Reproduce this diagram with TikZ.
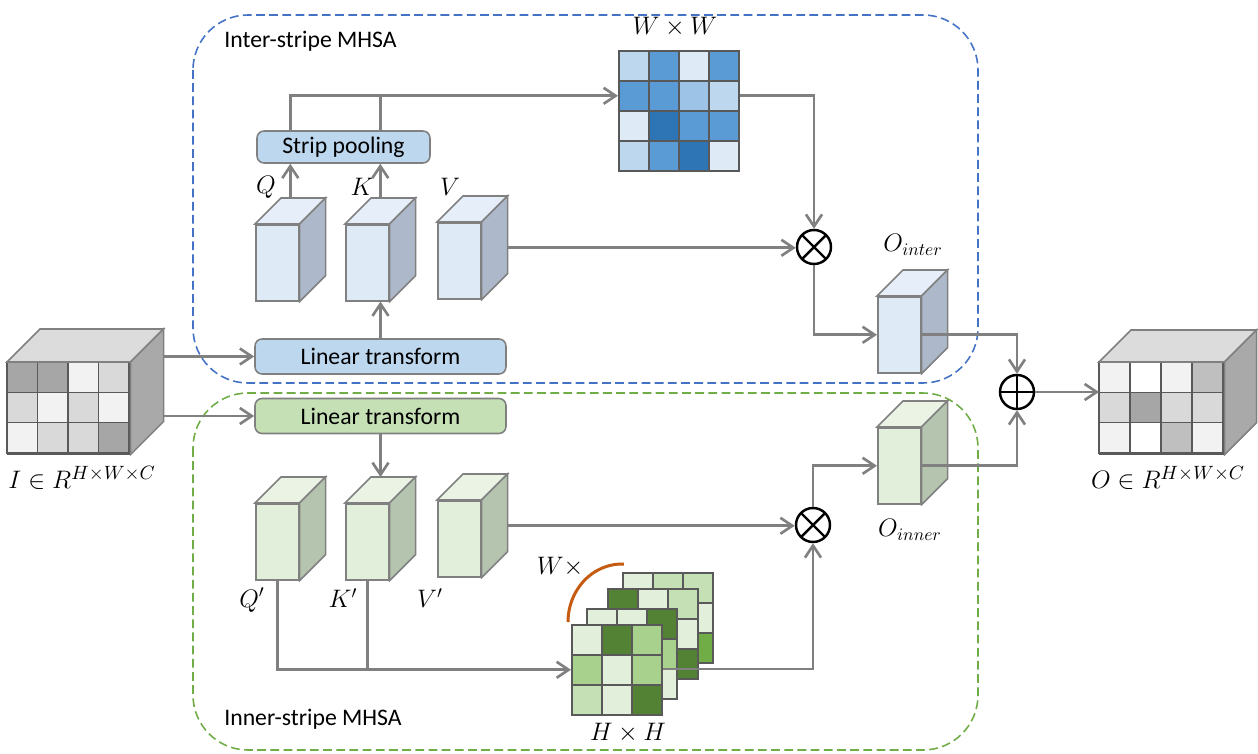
\documentclass[tikz,border=0pt]{standalone}
\usepackage{fontspec}
\setmainfont{Carlito}
\usetikzlibrary{arrows.meta,calc}

\definecolor{lnGray}{HTML}{808080}
\definecolor{cellGray}{HTML}{595959}
\definecolor{blueDash}{HTML}{4472C4}
\definecolor{greenDash}{HTML}{70AD47}
\definecolor{arcOrange}{HTML}{C55A11}
\definecolor{bFill}{HTML}{BDD7EE}
\definecolor{gFill}{HTML}{C5E0B4}
\definecolor{bFront}{HTML}{DEEBF7}
\definecolor{bTop}{HTML}{E6EFF9}
\definecolor{bSide}{HTML}{ADB9CA}
\definecolor{gFront}{HTML}{E2EFDA}
\definecolor{gTop}{HTML}{EAF3E4}
\definecolor{gSide}{HTML}{B5C4AE}
\definecolor{kTop}{HTML}{DCDCDC}
\definecolor{kSide}{HTML}{A9A9A9}
\definecolor{k0}{HTML}{FFFFFF}
\definecolor{k1}{HTML}{F2F2F2}
\definecolor{k2}{HTML}{D9D9D9}
\definecolor{k3}{HTML}{BFBFBF}
\definecolor{k4}{HTML}{A6A6A6}
\definecolor{bL}{HTML}{BDD7EE}
\definecolor{bM}{HTML}{5B9BD5}
\definecolor{bV}{HTML}{DEEBF7}
\definecolor{bH}{HTML}{9DC3E6}
\definecolor{bD}{HTML}{2E75B6}
\definecolor{gA}{HTML}{E2EFDA}
\definecolor{gB}{HTML}{C5E0B4}
\definecolor{gM}{HTML}{A9D18E}
\definecolor{gD}{HTML}{548235}
\definecolor{gG}{HTML}{70AD47}

\begin{document}
\begin{tikzpicture}[x=0.02cm,y=-0.02cm,
  arr/.style={draw=lnGray,line width=1.5pt,-{Straight Barb[length=2.4mm,width=3.2mm]}},
  ln/.style={draw=lnGray,line width=1.5pt},
  op/.style={rounded corners=4pt,draw=lnGray,line width=0.9pt,minimum height=0.7cm,inner sep=0pt,font=\fontsize{13.5}{15}\selectfont},
  fb/.style={draw=lnGray,line width=0.9pt,fill=bFront,minimum width=0.86cm,minimum height=1.52cm,inner sep=0pt,anchor=north west},
  fg/.style={fb,fill=gFront},
  big/.style={draw=cellGray,line width=0.9pt,minimum height=1.82cm,inner sep=0pt,anchor=north west},
  cell/.style={draw=cellGray,line width=0.9pt,minimum width=0.6cm,minimum height=0.6cm,inner sep=0pt,anchor=north west},
  mult/.style={circle,draw=black,line width=1.4pt,minimum size=0.68cm,inner sep=0pt,fill=white,
    path picture={\draw[line width=1.4pt] (path picture bounding box.north west) -- (path picture bounding box.south east)
      (path picture bounding box.north east) -- (path picture bounding box.south west);}},
  plus/.style={circle,draw=black,line width=1.4pt,minimum size=0.68cm,inner sep=0pt,fill=white,
    path picture={\draw[line width=1.4pt] (path picture bounding box.north) -- (path picture bounding box.south)
      (path picture bounding box.west) -- (path picture bounding box.east);}},
  lab/.style={font=\fontsize{14}{16}\selectfont,inner sep=1pt},
  biglab/.style={font=\fontsize{15.5}{18}\selectfont,inner sep=1pt},
  txt/.style={font=\fontsize{13.5}{15}\selectfont,anchor=west,inner sep=0pt},
  region/.style={line width=0.9pt,dash pattern=on 5pt off 2.5pt,rounded corners=1.1cm}]
  \useasboundingbox (0,0) rectangle (1258,754);
  % cuboid: front face node #1, top/side colours, depth
  \def\cuboid#1#2#3#4{%
    \draw[draw=lnGray,line width=0.9pt,fill=#2] (#1.north west) -- ++(#4,-#4) -- ($(#1.north east)+(#4,-#4)$) -- (#1.north east) -- cycle;
    \draw[draw=lnGray,line width=0.9pt,fill=#3] (#1.north east) -- ++(#4,-#4) -- ($(#1.south east)+(#4,-#4)$) -- (#1.south east) -- cycle;
    \coordinate (#1-top) at ($(#1.north)+(#4/2,-#4)$);
    \coordinate (#1-side) at ($(#1.east)+(#4,-#4/2)$);
    \coordinate (#1-ne) at ($(#1.north east)+(#4,-#4)$);}
  % grid of cells: name, x, y, columns, colours
  \def\grid#1#2#3#4#5{%
    \foreach \c [count=\n from 0] in {#5} {
      \pgfmathtruncatemacro\rr{div(\n,#4)+1}
      \pgfmathtruncatemacro\cc{mod(\n,#4)+1}
      \node[cell,fill=\c] (#1-\rr-\cc) at ({#2+30*(\cc-1)},{#3+30*(\rr-1)}) {};
    }}

  % ---------- the two branches ----------
  \draw[region,draw=blueDash] (193,15) rectangle (978,383);
  \draw[region,draw=greenDash] (193,393) rectangle (978,750);
  \node[txt] (t1) at (224,41) {Inter-stripe MHSA};
  \node[txt] (t2) at (224,719) {Inner-stripe MHSA};

  % ---------- input and output tensors ----------
  \node[big,minimum width=2.44cm] (inc) at (7,362) {};
  \foreach \c [count=\n from 0] in {k4,k4,k1,k2, k2,k1,k2,k1, k1,k2,k2,k4} {
    \pgfmathtruncatemacro\rr{div(\n,4)}
    \pgfmathtruncatemacro\cc{mod(\n,4)}
    \draw[draw=cellGray,line width=0.9pt,fill=\c] ($(inc.north west)+(30.5*\cc,30.33*\rr)$) rectangle ++(30.5,30.33);
  }
  \cuboid{inc}{kTop}{kSide}{33}
  \node[big,minimum width=2.48cm] (outc) at (1099,362) {};
  \foreach \c [count=\n from 0] in {k1,k0,k1,k3, k2,k4,k2,k2, k1,k0,k3,k1} {
    \pgfmathtruncatemacro\rr{div(\n,4)}
    \pgfmathtruncatemacro\cc{mod(\n,4)}
    \draw[draw=cellGray,line width=0.9pt,fill=\c] ($(outc.north west)+(31*\cc,30.33*\rr)$) rectangle ++(31,30.33);
  }
  \cuboid{outc}{kTop}{kSide}{32}
  \node[biglab] (li) at (82,478) {$I\in R^{H\times W\times C}$};
  \node[biglab] (lo) at (1168,478) {$O\in R^{H\times W\times C}$};

  % ---------- inter-stripe ----------
  \node[op,fill=bFill,minimum width=5.02cm] (lt1) at (380.5,356.5) {Linear transform};
  \node[op,fill=bFill,minimum width=3.46cm,minimum height=0.64cm] (sp) at (343.5,147) {Strip pooling};
  \node[fb] (q) at (255,224) {}; \cuboid{q}{bTop}{bSide}{26}
  \node[fb] (k) at (345,224) {}; \cuboid{k}{bTop}{bSide}{26}
  \node[fb] (v) at (437,222) {}; \cuboid{v}{bTop}{bSide}{26}
  \node[lab] (lq) at (266,187) {$Q$};
  \node[lab] (lk) at (362,187) {$K$};
  \node[lab] (lv) at (450,187) {$V$};
  \grid{m}{618}{50}{4}{bL,bM,bV,bM, bM,bM,bH,bL, bV,bD,bM,bM, bL,bM,bD,bV}
  \node[lab] (lww) at (675,27) {$W\times W$};
  \node[mult] (mul1) at (814,247) {};
  \node[fb] (oint) at (877,296) {}; \cuboid{oint}{bTop}{bSide}{26}
  \node[lab] (loi) at (913,245) {$O_{inter}$};

  % ---------- inner-stripe ----------
  \node[op,fill=gFill,minimum width=5.02cm] (lt2) at (380.5,416) {Linear transform};
  \node[fg] (qp) at (255,503) {}; \cuboid{qp}{gTop}{gSide}{26}
  \node[fg] (kp) at (345,503) {}; \cuboid{kp}{gTop}{gSide}{26}
  \node[fg] (vp) at (437,500) {}; \cuboid{vp}{gTop}{gSide}{26}
  \node[lab] (lqp) at (252,600) {$Q'$};
  \node[lab] (lkp) at (343,598) {$K'$};
  \node[lab] (lvp) at (430,598) {$V'$};
  \node[mult] (mul2) at (813,525) {};
  \node[fg] (oinn) at (877,427) {}; \cuboid{oinn}{gTop}{gSide}{26}
  \node[lab] (lon) at (910,530) {$O_{inner}$};
  \node[plus] (add) at (1017,392) {};
  \grid{g4}{622}{572}{3}{gA,gB,gB, gM,gA,gA, gB,gA,gG}
  \grid{g3}{607}{588}{3}{gD,gA,gB, gA,gB,gA, gM,gA,gD}
  \grid{g2}{586}{608}{3}{gA,gA,gD, gB,gM,gM, gA,gB,gA}
  \coordinate (gout) at (661,669);
  \draw[arr] (gout) -| (mul2.south);
  \grid{g1}{571}{624}{3}{gA,gD,gM, gM,gA,gM, gB,gA,gD}
  \draw[draw=arcOrange,line width=1.7pt] (568,622) arc[start angle=180,end angle=272,x radius=54,y radius=58];
  \node[lab] (lw) at (560,567) {$W\times$};
  \node[lab] (lhh) at (628,733) {$H\times H$};

  % ---------- connectors ----------
  \draw[arr] (lt1.west -| inc-ne) -- (lt1.west);
  \draw[arr] (lt2.west -| inc-ne) -- (lt2.west);
  \draw[arr] (lt1.north) -- (lt1.north |- k.south);
  \draw[arr] (q-top) -- (q-top |- sp.south);
  \draw[arr] (k-top) -- (k-top |- sp.south);
  \draw[arr] (q-top |- sp.north) |- (m-2-1.west);
  \draw[ln] (k-top |- sp.north) -- (k-top |- m-2-1.west);
  \draw[arr] (m-2-4.east) -| (mul1.north);
  \draw[arr] (v-side) -- (v-side -| mul1.west);
  \draw[arr] (mul1.south) |- (oint.west);
  \draw[arr] (oint.east) -| (add.north);
  \draw[arr] (lt2.south) -- (lt2.south |- kp-ne);
  \draw[arr] (vp-side) -- (vp-side -| mul2.west);
  \draw[arr] (qp.south) |- (g1-2-1.west);
  \draw[ln] (kp.south) -- (kp.south |- g1-2-1.west);
  \draw[arr] (mul2.north) |- (oinn.west);
  \draw[arr] (oinn.east) -| (add.south);
  \draw[arr] (add.east) -- (add.east -| outc.west);
\end{tikzpicture}
\end{document}
